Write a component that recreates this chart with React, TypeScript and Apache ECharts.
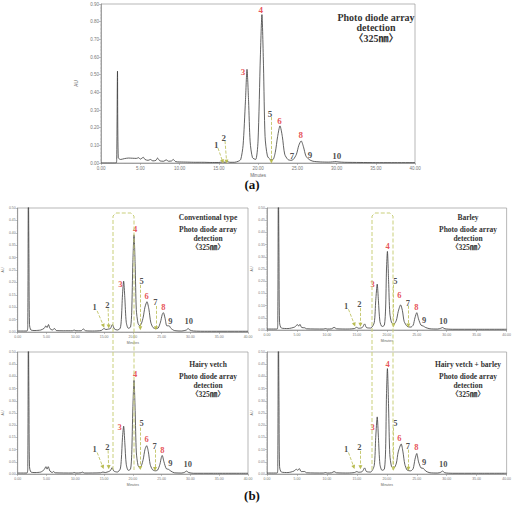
import React, { useEffect, useRef } from "react";
import * as echarts from "echarts";

// Retention time (min) / absorbance (AU) pairs for each chromatogram trace
const traceA: [number, number][] = [
  [0, 0.0], [1.9, 0.0], [2.0, 0.02], [2.1, 0.52], [2.2, 0.03], [2.5, 0.02], [3.0, 0.025], [3.5, 0.028],
  [4.0, 0.027], [4.5, 0.026], [4.8, 0.03], [5.0, 0.022], [5.4, 0.032], [5.6, 0.02], [6.0, 0.015], [6.3, 0.02],
  [6.6, 0.012], [7.0, 0.015], [7.2, 0.028], [7.5, 0.012], [8.0, 0.01], [8.3, 0.018], [8.6, 0.01], [9.0, 0.012],
  [9.2, 0.02], [9.5, 0.008], [10, 0.006], [11, 0.005], [12, 0.004], [13, 0.004], [14, 0.003], [15, 0.003],
  [15.5, 0.006], [15.8, 0.004], [16.1, 0.008], [16.4, 0.004], [17, 0.004], [17.5, 0.01], [17.8, 0.02],
  [18.1, 0.1], [18.4, 0.35], [18.6, 0.53], [18.8, 0.35], [19.0, 0.12], [19.3, 0.03], [19.7, 0.02],
  [20.0, 0.12], [20.3, 0.6], [20.5, 0.84], [20.7, 0.55], [20.9, 0.15], [21.2, 0.04], [21.6, 0.02],
  [21.9, 0.02], [22.2, 0.06], [22.5, 0.15], [22.8, 0.21], [23.1, 0.15], [23.4, 0.05], [23.8, 0.02],
  [24.2, 0.015], [24.5, 0.02], [24.9, 0.05], [25.2, 0.1], [25.5, 0.125], [25.8, 0.09], [26.1, 0.04],
  [26.5, 0.02], [27, 0.01], [28, 0.006], [29, 0.005], [30, 0.008], [30.3, 0.006], [31, 0.004], [33, 0.003],
  [35, 0.002], [37, 0.002], [40, 0.002],
];

const traceConventional: [number, number][] = [
  [0, 0.004], [1.6, 0.004], [1.75, 0.03], [1.85, 0.62], [1.95, 0.3], [2.05, 0.03], [2.3, 0.008], [3, 0.006],
  [4, 0.008], [4.6, 0.015], [4.9, 0.025], [5.1, 0.018], [5.35, 0.03], [5.6, 0.014], [6.0, 0.008], [6.4, 0.014],
  [6.7, 0.006], [8, 0.005], [9.5, 0.005], [9.8, 0.008], [10.1, 0.005], [11.0, 0.005], [11.4, 0.012],
  [11.8, 0.005], [13, 0.004], [14.5, 0.006], [15.0, 0.014], [15.3, 0.01], [15.8, 0.012], [16.1, 0.014],
  [16.45, 0.03], [16.8, 0.012], [17.3, 0.008], [17.8, 0.015], [18.0, 0.05], [18.2, 0.15], [18.4, 0.205],
  [18.6, 0.14], [18.85, 0.04], [19.2, 0.015], [19.6, 0.02], [19.8, 0.08], [20.0, 0.28], [20.2, 0.392],
  [20.4, 0.27], [20.6, 0.09], [20.9, 0.035], [21.2, 0.025], [21.5, 0.035], [21.8, 0.06], [22.1, 0.1],
  [22.45, 0.122], [22.8, 0.09], [23.1, 0.04], [23.5, 0.018], [24.0, 0.014], [24.4, 0.016], [24.8, 0.04],
  [25.1, 0.07], [25.3, 0.078], [25.6, 0.055], [25.9, 0.025], [26.3, 0.025], [26.6, 0.015], [27.2, 0.006],
  [28.5, 0.004], [29.3, 0.008], [29.6, 0.014], [29.9, 0.008], [30.5, 0.004], [33, 0.003], [36, 0.003],
  [40, 0.003],
];

const traceBarley: [number, number][] = [
  [0, 0.004], [1.7, 0.004], [1.8, 0.03], [1.9, 0.62], [2.0, 0.3], [2.1, 0.03], [2.4, 0.008], [3.5, 0.006],
  [4.6, 0.012], [5.1, 0.022], [5.3, 0.016], [5.5, 0.023], [5.8, 0.01], [6.3, 0.009], [6.6, 0.005],
  [9.4, 0.004], [9.75, 0.006], [10.1, 0.004], [10.8, 0.005], [11.2, 0.011], [11.6, 0.005], [13.5, 0.004],
  [14.6, 0.006], [14.95, 0.011], [15.3, 0.007], [15.9, 0.01], [16.3, 0.025], [16.6, 0.01], [17.3, 0.008],
  [17.9, 0.03], [18.15, 0.12], [18.4, 0.188], [18.6, 0.12], [18.85, 0.035], [19.2, 0.014], [19.6, 0.02],
  [19.8, 0.09], [19.95, 0.25], [20.1, 0.322], [20.3, 0.2], [20.5, 0.07], [20.8, 0.03], [21.2, 0.025],
  [21.6, 0.04], [21.9, 0.075], [22.3, 0.103], [22.6, 0.08], [22.9, 0.035], [23.4, 0.015], [24.0, 0.012],
  [24.4, 0.02], [24.7, 0.05], [25.0, 0.071], [25.3, 0.045], [25.7, 0.02], [26.1, 0.016], [26.5, 0.01],
  [27.2, 0.005], [28.5, 0.004], [29.0, 0.007], [29.3, 0.01], [29.7, 0.005], [31, 0.003], [35, 0.003],
  [40, 0.003],
];

const traceVetch: [number, number][] = [
  [0, 0.004], [1.6, 0.004], [1.75, 0.03], [1.85, 0.62], [1.95, 0.3], [2.05, 0.03], [2.3, 0.008], [3, 0.006],
  [4, 0.008], [4.6, 0.018], [4.9, 0.03], [5.1, 0.02], [5.3, 0.03], [5.6, 0.012], [6.0, 0.006], [6.2, 0.01],
  [6.5, 0.005], [9.5, 0.004], [9.8, 0.006], [10.1, 0.004], [11.0, 0.005], [11.2, 0.008], [11.6, 0.004],
  [14.4, 0.005], [14.8, 0.008], [15.2, 0.006], [15.8, 0.01], [16.1, 0.014], [16.4, 0.026], [16.7, 0.012],
  [17.3, 0.008], [17.8, 0.02], [18.0, 0.06], [18.2, 0.15], [18.4, 0.196], [18.6, 0.13], [18.85, 0.04],
  [19.2, 0.015], [19.6, 0.02], [19.8, 0.08], [20.0, 0.27], [20.2, 0.384], [20.4, 0.26], [20.6, 0.09],
  [20.9, 0.035], [21.2, 0.025], [21.5, 0.035], [21.8, 0.06], [22.1, 0.1], [22.4, 0.116], [22.7, 0.09],
  [23.0, 0.04], [23.4, 0.018], [23.9, 0.013], [24.3, 0.016], [24.7, 0.04], [24.95, 0.068], [25.1, 0.076],
  [25.4, 0.05], [25.8, 0.022], [26.2, 0.019], [26.6, 0.012], [27.2, 0.005], [28.5, 0.004], [29.0, 0.007],
  [29.3, 0.012], [29.7, 0.006], [30.5, 0.003], [34, 0.003], [40, 0.003],
];

const traceVetchBarley: [number, number][] = [
  [0, 0.004], [1.7, 0.004], [1.8, 0.03], [1.9, 0.62], [2.0, 0.3], [2.1, 0.03], [2.4, 0.008], [3.5, 0.006],
  [4.5, 0.012], [4.9, 0.02], [5.1, 0.015], [5.4, 0.022], [5.7, 0.01], [6.3, 0.01], [6.6, 0.005],
  [9.4, 0.004], [9.75, 0.006], [10.1, 0.004], [10.8, 0.005], [11.2, 0.01], [11.6, 0.005], [13.5, 0.004],
  [14.6, 0.006], [15.0, 0.01], [15.3, 0.007], [15.9, 0.01], [16.3, 0.025], [16.6, 0.01], [17.3, 0.008],
  [17.9, 0.035], [18.15, 0.15], [18.4, 0.234], [18.6, 0.15], [18.85, 0.04], [19.2, 0.015], [19.6, 0.02],
  [19.8, 0.1], [19.95, 0.33], [20.1, 0.432], [20.3, 0.27], [20.5, 0.08], [20.8, 0.03], [21.2, 0.025],
  [21.6, 0.045], [21.9, 0.09], [22.4, 0.123], [22.7, 0.09], [23.0, 0.04], [23.4, 0.016], [24.0, 0.013],
  [24.4, 0.022], [24.7, 0.06], [25.0, 0.084], [25.3, 0.05], [25.7, 0.025], [26.1, 0.023], [26.5, 0.012],
  [27.2, 0.005], [28.5, 0.004], [29.0, 0.007], [29.3, 0.012], [29.7, 0.005], [31, 0.003], [35, 0.003],
  [40, 0.003],
];

// Peak numbers; the red ones are the major compounds
const peakNames = ["1", "2", "3", "4", "5", "6", "7", "8", "9", "10"];
const redPeaks = ["3", "4", "6", "8"];

// Peak label anchors (min, AU) in the order of peakNames
const labelsA: [number, number][] = [
  [14.75, 0.098], [15.7, 0.14], [18.15, 0.51], [20.4, 0.865], [21.6, 0.277],
  [22.8, 0.234], [24.4, 0.036], [25.5, 0.153], [26.7, 0.041], [30.1, 0.036],
];
const labelsConventional: [number, number][] = [
  [13.45, 0.097], [15.66, 0.108], [17.9, 0.19], [20.5, 0.415], [21.6, 0.205],
  [22.5, 0.145], [24.0, 0.12], [25.4, 0.097], [26.6, 0.043], [29.8, 0.041],
];
const labelsBarley: [number, number][] = [
  [13.3, 0.096], [15.5, 0.103], [17.7, 0.188], [20.2, 0.342], [21.5, 0.2],
  [22.2, 0.14], [23.6, 0.11], [25.0, 0.093], [26.3, 0.037], [29.5, 0.034],
];
const labelsVetch: [number, number][] = [
  [13.45, 0.1], [15.66, 0.109], [17.8, 0.19], [20.5, 0.407], [21.6, 0.207],
  [22.5, 0.142], [23.85, 0.114], [25.2, 0.098], [26.6, 0.044], [29.6, 0.037],
];
const labelsVetchBarley: [number, number][] = [
  [13.3, 0.1], [15.5, 0.108], [17.7, 0.19], [20.2, 0.45], [21.5, 0.207],
  [22.2, 0.146], [23.6, 0.112], [25.0, 0.108], [26.3, 0.046], [29.5, 0.037],
];

// Pointer lines from labels to minor peaks (start, end) in (min, AU)
const arrowsA: [number, number][][] = [
  [[14.9, 0.085], [15.5, 0.008]],
  [[15.8, 0.125], [16.0, 0.008]],
  [[21.7, 0.26], [21.7, 0.008]],
];
const arrowsConventional: [number, number][][] = [
  [[13.8, 0.085], [14.9, 0.025]],
  [[15.7, 0.095], [15.8, 0.022]],
  [[21.3, 0.19], [21.3, 0.015]],
  [[24.0, 0.105], [24.0, 0.015]],
];
const arrowsBarley: [number, number][][] = [
  [[13.6, 0.085], [14.6, 0.022]],
  [[15.6, 0.09], [15.6, 0.022]],
  [[21.1, 0.185], [21.1, 0.018]],
  [[23.6, 0.1], [23.6, 0.018]],
];
const arrowsVetch: [number, number][][] = [
  [[13.8, 0.088], [14.8, 0.028]],
  [[15.7, 0.097], [15.8, 0.028]],
  [[21.3, 0.19], [21.3, 0.025]],
  [[23.85, 0.1], [23.85, 0.02]],
];
const arrowsVetchBarley: [number, number][][] = [
  [[13.6, 0.088], [14.5, 0.028]],
  [[15.6, 0.095], [15.6, 0.028]],
  [[21.1, 0.19], [21.1, 0.022]],
  [[23.6, 0.1], [23.6, 0.022]],
];

const xTicks = { min: 0, max: 40, interval: 5 };
const yMaxTop = 0.9;
const yStepTop = 0.1;
const yMaxSmall = 0.5;
const yStepSmall = 0.05;

const SERIF = "'Liberation Serif', 'DejaVu Serif', 'Noto Sans CJK KR', serif";
const RED = "#e0282c";
const INK = "#222";
const POINTER = "#b9bc52";

type Panel = {
  grid: { left: number; top: number; width: number; height: number };
  trace: [number, number][];
  labels: [number, number][];
  arrows: [number, number][][];
  yMax: number;
  yStep: number;
  labelSize: number;
  tickSize: number;
};

const panels: Panel[] = [
  { grid: { left: 101, top: 4, width: 314, height: 159 }, trace: traceA, labels: labelsA, arrows: arrowsA, yMax: yMaxTop, yStep: yStepTop, labelSize: 9, tickSize: 4.5 },
  { grid: { left: 7, top: 208, width: 241, height: 124 }, trace: traceConventional, labels: labelsConventional, arrows: arrowsConventional, yMax: yMaxSmall, yStep: yStepSmall, labelSize: 8.5, tickSize: 3.5 },
  { grid: { left: 267, top: 208, width: 243, height: 122 }, trace: traceBarley, labels: labelsBarley, arrows: arrowsBarley, yMax: yMaxSmall, yStep: yStepSmall, labelSize: 8.5, tickSize: 3.5 },
  { grid: { left: 7, top: 352, width: 241, height: 122 }, trace: traceVetch, labels: labelsVetch, arrows: arrowsVetch, yMax: yMaxSmall, yStep: yStepSmall, labelSize: 8.5, tickSize: 3.5 },
  { grid: { left: 267, top: 352, width: 243, height: 122 }, trace: traceVetchBarley, labels: labelsVetchBarley, arrows: arrowsVetchBarley, yMax: yMaxSmall, yStep: yStepSmall, labelSize: 8.5, tickSize: 3.5 },
];

// Sample captions drawn in the upper right of each panel: [centre x, first baseline y, lines]
const captions: { x: number; y: number; size: number; gaps: number[]; lines: string[] }[] = [
  { x: 376, y: 17, size: 10, gaps: [0, 10.5, 21], lines: ["Photo diode array", "detection", "〈325㎚〉"] },
  { x: 208, y: 217, size: 7.5, gaps: [0, 12, 21, 30], lines: ["Conventional type", "Photo diode array", "detection", "〈325㎚〉"] },
  { x: 468, y: 217, size: 7.5, gaps: [0, 12, 21, 30], lines: ["Barley", "Photo diode array", "detection", "〈325㎚〉"] },
  { x: 208, y: 364, size: 7.5, gaps: [0, 12, 21, 30], lines: ["Hairy vetch", "Photo diode array", "detection", "〈325㎚〉"] },
  { x: 468, y: 364, size: 7.5, gaps: [0, 12, 21, 30], lines: ["Hairy vetch + barley", "Photo diode array", "detection", "〈325㎚〉"] },
];

function labelSeries(i: number, p: Panel, red: boolean) {
  const data = p.labels
    .map((v, k) => ({ name: peakNames[k], value: v }))
    .filter((d) => redPeaks.includes(d.name) === red);
  return {
    type: "scatter",
    xAxisIndex: i,
    yAxisIndex: i,
    symbolSize: 1,
    itemStyle: { color: "rgba(0,0,0,0)" },
    data,
    label: {
      show: true,
      position: [0, 0],
      align: "center",
      verticalAlign: "middle",
      formatter: "{b}",
      color: red ? RED : INK,
      textBorderWidth: 0,
      fontFamily: SERIF,
      fontWeight: "bold",
      fontSize: p.labelSize,
    },
    silent: true,
    z: 4,
  };
}

function buildOption() {
  const grids: any[] = [];
  const xAxes: any[] = [];
  const yAxes: any[] = [];
  const series: any[] = [];

  panels.forEach((p, i) => {
    grids.push({ ...p.grid, show: true, borderColor: "#9a9a9a", borderWidth: 0.7, backgroundColor: "transparent" });
    xAxes.push({
      gridIndex: i,
      type: "value",
      min: xTicks.min,
      max: xTicks.max,
      interval: xTicks.interval,
      name: "Minutes",
      nameLocation: "middle",
      nameGap: i === 0 ? 10 : 9,
      nameTextStyle: { fontSize: p.tickSize, color: "#666" },
      axisLine: { onZero: false, lineStyle: { color: "#888", width: 0.7 } },
      axisTick: { show: true, length: 2, lineStyle: { color: "#888", width: 0.5 } },
      minorTick: { show: true, splitNumber: 5, length: 1, lineStyle: { color: "#999", width: 0.4 } },
      axisLabel: { fontSize: p.tickSize, color: "#777", margin: 3, formatter: (v: number) => v.toFixed(2) },
      splitLine: { show: false },
    });
    yAxes.push({
      gridIndex: i,
      type: "value",
      min: 0,
      max: p.yMax,
      interval: p.yStep,
      name: "AU",
      nameLocation: "middle",
      nameGap: i === 0 ? 12 : 8,
      nameRotate: 90,
      nameTextStyle: { fontSize: p.tickSize, color: "#666" },
      axisLine: { show: true, lineStyle: { color: "#888", width: 0.7 } },
      axisTick: { show: true, length: 2, lineStyle: { color: "#888", width: 0.5 } },
      minorTick: { show: true, splitNumber: 5, length: 1, lineStyle: { color: "#999", width: 0.4 } },
      axisLabel: { fontSize: p.tickSize, color: "#777", margin: 2, formatter: (v: number) => v.toFixed(2) },
      splitLine: { show: false },
    });

    series.push({
      type: "line",
      xAxisIndex: i,
      yAxisIndex: i,
      data: p.trace,
      showSymbol: false,
      smooth: 0.25,
      clip: true,
      lineStyle: { color: "#3a3a3a", width: 0.8 },
      silent: true,
      z: 2,
    });

    series.push({
      type: "lines",
      coordinateSystem: "cartesian2d",
      xAxisIndex: i,
      yAxisIndex: i,
      data: p.arrows.map((a) => ({ coords: a })),
      symbol: ["none", "triangle"],
      symbolSize: 4,
      lineStyle: { color: POINTER, width: 0.8, type: "dashed", opacity: 1 },
      silent: true,
      z: 3,
    });

    series.push(labelSeries(i, p, true));
    series.push(labelSeries(i, p, false));
  });

  const graphics: any[] = [];
  captions.forEach((c) => {
    c.lines.forEach((line, k) => {
      graphics.push({
        type: "text",
        x: c.x,
        y: c.y + c.gaps[k],
        style: {
          text: line,
          fill: "#333",
          font: `bold ${c.size}px ${SERIF}`,
          textAlign: "center",
          textVerticalAlign: "middle",
        },
      });
    });
  });

  // Dashed frames around peaks 3 and 4 in the lower panels
  const frameStyle = { stroke: "#c9cf7a", lineWidth: 1, lineDash: [4, 2], fill: "none" };
  graphics.push({ type: "polyline", shape: { points: [[113, 470], [113, 216], [116, 213], [131, 213], [134, 216], [134, 470]] }, style: frameStyle, z: 10 });
  graphics.push({ type: "polyline", shape: { points: [[372, 470], [372, 216], [375, 213], [390, 213], [393, 216], [393, 470]] }, style: frameStyle, z: 10 });

  graphics.push({ type: "text", x: 252, y: 184, style: { text: "(a)", fill: "#111", font: `bold 13px ${SERIF}`, textAlign: "center", textVerticalAlign: "middle" } });
  graphics.push({ type: "text", x: 252, y: 495, style: { text: "(b)", fill: "#111", font: `bold 13px ${SERIF}`, textAlign: "center", textVerticalAlign: "middle" } });

  return {
    animation: false,
    backgroundColor: "#ffffff",
    grid: grids,
    xAxis: xAxes,
    yAxis: yAxes,
    series,
    graphic: graphics,
  };
}

export default function App() {
  const ref = useRef<HTMLDivElement>(null);
  useEffect(() => {
    if (!ref.current) return;
    const chart = echarts.init(ref.current, null, { renderer: "svg" });
    chart.setOption(buildOption());
    return () => chart.dispose();
  }, []);
  return (
    <div
      ref={ref}
      style={{ position: "absolute", left: 0, top: 0, width: 514, height: 506 }}
    />
  );
}
